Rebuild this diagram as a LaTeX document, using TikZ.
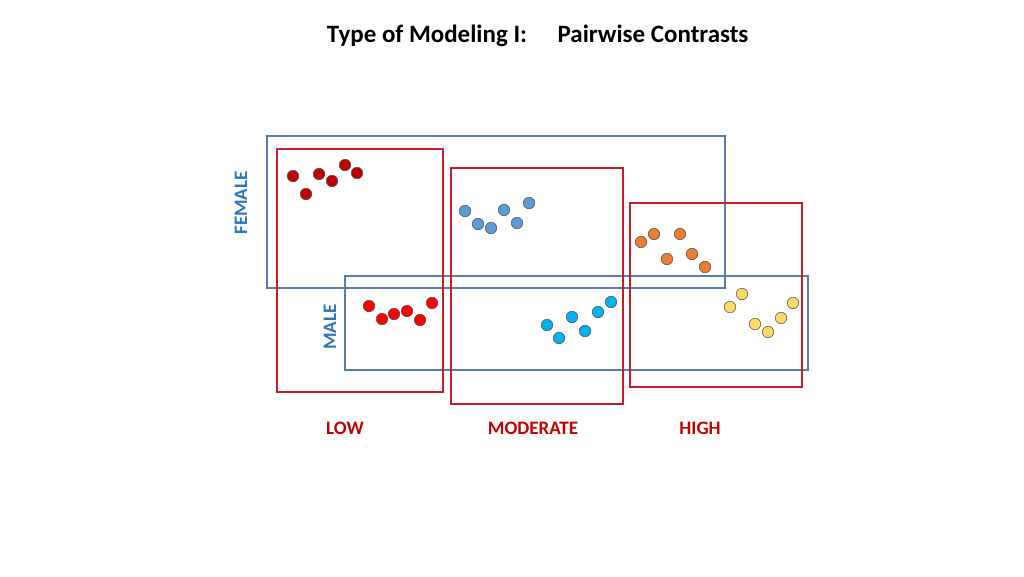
\documentclass[tikz,border=0pt]{standalone}
\usepackage{fontspec}
\setmainfont{Carlito}
\definecolor{boxred}{RGB}{192,30,40}
\definecolor{boxblue}{RGB}{90,125,160}
\definecolor{lblblue}{RGB}{46,117,182}
\definecolor{lblred}{RGB}{192,0,0}
\definecolor{cdarkred}{RGB}{192,0,0}
\definecolor{csteel}{RGB}{91,155,213}
\definecolor{corange}{RGB}{237,125,49}
\definecolor{cred}{RGB}{255,0,0}
\definecolor{ccyan}{RGB}{0,176,240}
\definecolor{cyellow}{RGB}{255,217,102}
\begin{document}
\begin{tikzpicture}[
    x=1pt, y=-1pt,
    groupbox/.style = {draw=boxred, line width=1.2pt},
    sexbox/.style   = {draw=boxblue, line width=1.2pt},
    dot/.style      = {draw=gray!60!black, circle, inner sep=0pt, minimum size=11.5pt, line width=0.5pt},
    sexlbl/.style   = {text=lblblue, font=\bfseries\fontsize{19}{22}\selectfont, rotate=90},
    grplbl/.style   = {text=lblred, font=\bfseries\fontsize{19}{22}\selectfont},
    titel/.style    = {font=\bfseries\fontsize{25}{30}\selectfont, anchor=base},
  ]
	\useasboundingbox (0,0) rectangle (1024,576);
	
	% Titel
	\node[titel] (T1) at (427,42) {Type of Modeling I:};
	\node[titel] (T2) at (653,42) {Pairwise Contrasts};
	
	% Rahmen
	\draw[sexbox] (267,136) rectangle (725,288);
	\draw[sexbox] (345,276) rectangle (808,370);
	\draw[groupbox] (277,149) rectangle (443,392);
	\draw[groupbox] (451,168) rectangle (623,404);
	\draw[groupbox] (630,203) rectangle (802,387);
	
	% Punkte
	\foreach \x/\y in {293/176,306/194,319/174,332/181,345/165,357/173}
		\node[dot, fill=cdarkred] at (\x,\y) {};
	\foreach \x/\y in {465/211,478/224,491/228,504/210,517/223,529/203}
		\node[dot, fill=csteel] at (\x,\y) {};
	\foreach \x/\y in {641/242,654/234,667/259,680/234,692/254,705/267}
		\node[dot, fill=corange] at (\x,\y) {};
	\foreach \x/\y in {369/306,382/319,394/314,407/311,420/320,432/303}
		\node[dot, fill=cred] at (\x,\y) {};
	\foreach \x/\y in {547/325,559/338,572/317,585/331,598/312,611/302}
		\node[dot, fill=ccyan] at (\x,\y) {};
	\foreach \x/\y in {730/307,742/294,755/324,768/332,781/318,793/303}
		\node[dot, fill=cyellow] at (\x,\y) {};
	
	% Beschriftungen
	\node[sexlbl] (F) at (241,203) {FEMALE};
	\node[sexlbl] (M) at (330,327) {MALE};
	\node[grplbl] (L) at (345,428) {LOW};
	\node[grplbl] (Mo) at (533,428) {MODERATE};
	\node[grplbl] (H) at (700,428) {HIGH};
\end{tikzpicture}
\end{document}
